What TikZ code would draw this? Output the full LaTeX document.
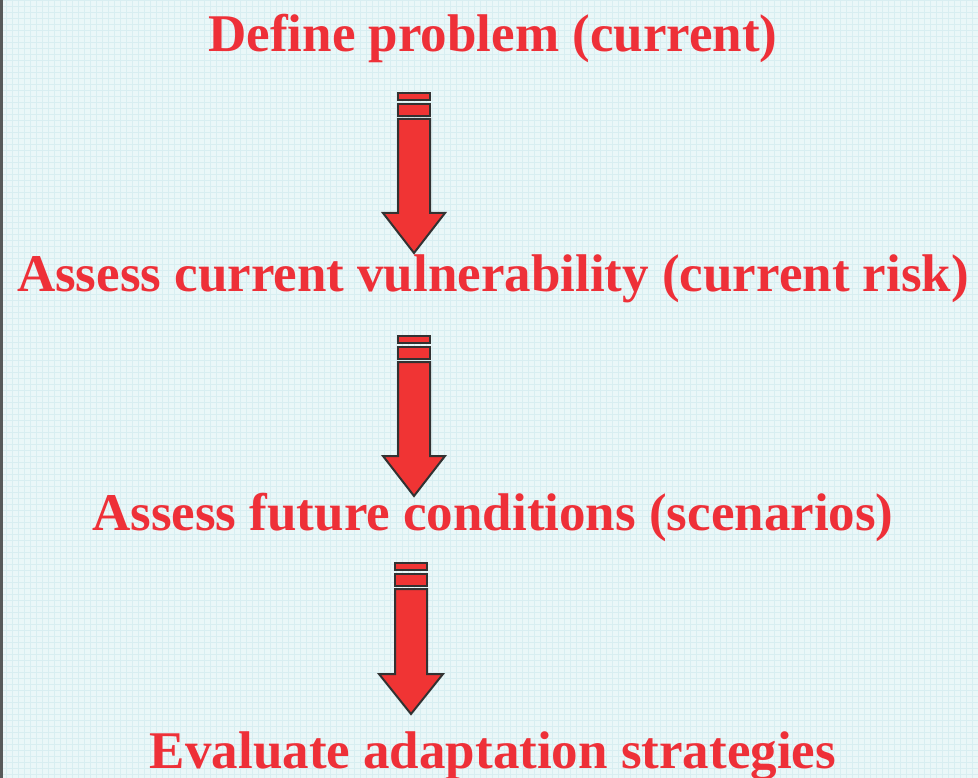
\documentclass[tikz,border=0pt]{standalone}
\usepackage{fontspec}
\setmainfont{Liberation Serif}
\definecolor{bgc}{RGB}{234,247,248}
\definecolor{gridc}{RGB}{216,238,241}
\definecolor{txtred}{RGB}{238,48,56}
\definecolor{arrred}{RGB}{240,52,52}
\definecolor{edgec}{RGB}{50,50,50}
\tikzset{
  steptext/.style={anchor=base, inner sep=0pt, text=txtred, font=\fontsize{53}{60}\selectfont\bfseries},
  arrowpart/.style={fill=arrred, draw=edgec, line width=2pt, line join=miter}
}
% #1 centre x, #2 top y, #3 tip y, #4 half shaft width, #5 half head width
\newcommand\flowarrow[5]{%
  \path[arrowpart] (#1-#4,#2) rectangle (#1+#4,#2+7);
  \path[arrowpart] (#1-#4,#2+11) rectangle (#1+#4,#2+23);
  \path[arrowpart] (#1-#4,#2+26) -- (#1+#4,#2+26) -- (#1+#4,#3-40)
     -- (#1+#5,#3-40) -- (#1,#3) -- (#1-#5,#3-40) -- (#1-#4,#3-40) -- cycle;
}
\begin{document}
\begin{tikzpicture}[x=1pt,y=-1pt]
\useasboundingbox (0,0) rectangle (978,778);
\fill[bgc] (0,0) rectangle (978,778);
\foreach \i in {0,6,...,978} {\draw[gridc, line width=0.8pt] (\i,0) -- (\i,778);}
\foreach \j in {0,6,...,778} {\draw[gridc, line width=0.8pt] (0,\j) -- (978,\j);}
\fill[edgec!80!bgc] (0,0) rectangle (3,778);
\node[steptext] (s1) at (493,52) {Define problem (current)};
\node[steptext] (s2) at (493,291) {Assess current vulnerability (current risk)};
\node[steptext] (s3) at (493,530) {Assess future conditions (scenarios)};
\node[steptext] (s4) at (493,768) {Evaluate adaptation strategies};
\flowarrow{414}{93}{253}{16}{31}
\flowarrow{414}{336}{496}{16}{31}
\flowarrow{411}{563}{714}{16}{32}
\end{tikzpicture}
\end{document}
